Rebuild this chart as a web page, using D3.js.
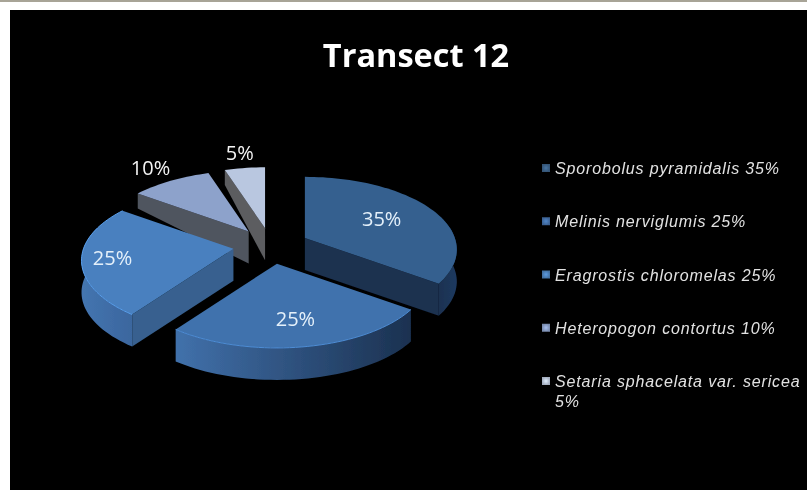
<!DOCTYPE html>
<html><head><meta charset="utf-8">
<script src="https://cdn.jsdelivr.net/npm/d3@7/dist/d3.min.js"></script>
<style>html,body{margin:0;padding:0;background:#fff}svg{display:block}</style>
</head><body><svg id="c" width="807" height="490"></svg>
<script>
const species = ["Sporobolus pyramidalis","Melinis nerviglumis","Eragrostis chloromelas","Heteropogon contortus","Setaria sphacelata var. sericea"];
const shares = [35,25,25,10,5];
const topColors = ["#34608f","#3f72ad","#4880bf","#8da2cb","#b9c7e0"];
const rimColors = [["#1a3150","#1f3a60"],["#4171ab","#1b3150"],["#4475b0","#3b669e"],["#50545e","#50545e"],["#5b5d62","#5b5d62"]];
const cutColors = ["#1b3050","#2a4a75","#37608f","#50545e","#5c5d61"];
const swatchColors = ["#3c6288","#4470a8","#4d82bb","#8ba0c8","#bcc8dc"];
const labelFrac = [0.6,0.7,0.8,1.3,1.3];

const svg = d3.select("#c");
const defs = svg.append("defs");
defs.append("filter").attr("id","soft").append("feGaussianBlur").attr("stdDeviation",0.45);
svg.append("rect").attr("width",807).attr("height",490).attr("fill","#fff");
svg.append("rect").attr("width",807).attr("height",2).attr("fill","#a8a497");
svg.append("rect").attr("x",10).attr("y",10).attr("width",797).attr("height",480).attr("fill","#000");

const R=150,k=0.16,b=70.8,depth=32,cx=271,cy=246,explode=38,squash=0.47;
const deg=d3.scaleLinear().domain([0,360]).range([0,2*Math.PI]);
const pie=d3.pie().sort(null)(shares);
function proj(theta,f){const X=f*Math.sin(theta),Z=-f*Math.cos(theta),s=1/(1-k*Z);return [R*X*s,b*Z*s];}
function range(a,e){const n=Math.max(2,Math.ceil((e-a)/deg(2)));return d3.range(n+1).map(i=>a+(e-a)*i/n);}
const line=d3.line();
const g=svg.append("g").attr("filter","url(#soft)");
const slices=pie.map((p,i)=>{const m=(p.startAngle+p.endAngle)/2;
  return {i,a0:p.startAngle,a1:p.endAngle,m,ax:cx+explode*Math.sin(m),ay:cy-explode*Math.cos(m)*squash};});

[3,4,0,2,1].forEach(i=>{
  const s=slices[i],rim=t=>{const q=proj(t,1);return [s.ax+q[0],s.ay+q[1]];};
  const grp=g.append("g");
  const grad=defs.append("linearGradient").attr("id","rim"+i).attr("gradientUnits","userSpaceOnUse");
  const lo=Math.max(s.a0,deg(72)),hi=Math.min(s.a1,deg(288));
  if(hi>lo){
    const pts=range(lo,hi).map(rim);
    const ex=d3.extent(pts,d=>d[0]);
    grad.attr("x1",ex[0]).attr("x2",ex[1]).attr("y1",0).attr("y2",0);
    grad.append("stop").attr("offset",0).attr("stop-color",rimColors[i][0]);
    grad.append("stop").attr("offset",1).attr("stop-color",rimColors[i][1]);
    const poly=pts.concat(pts.slice().reverse().map(d=>[d[0],d[1]+depth]));
    grp.append("path").attr("d",line(poly)+"Z").attr("fill","url(#rim"+i+")");
  }
  // flat cut face: slice 1 shows its clockwise end, slices 3-5 their start edge
  if(i!==1){
    const t=i===0?s.a1:s.a0, e=rim(t);
    const far=i>=3?15:depth;
    const poly=[[s.ax,s.ay],e,[e[0],e[1]+far],[s.ax,s.ay+depth]];
    grp.append("path").attr("d",line(poly)+"Z").attr("fill",cutColors[i]);
  }
  const top=[[s.ax,s.ay]].concat(range(s.a0,s.a1).map(rim));
  grp.append("path").attr("d",line(top)+"Z").attr("fill",topColors[i]);
  if(i===1||i===2){
    grp.append("path").attr("d",line(range(s.a0,s.a1).map(rim)))
      .attr("fill","none").attr("stroke",d3.color(topColors[i]).brighter(0.6)).attr("stroke-width",1);
  }
});

const t=svg.append("g").attr("filter","url(#soft)");
t.selectAll("text.pct").data(slices).join("text").attr("class","pct")
  .attr("x",d=>d.ax+proj(d.m,labelFrac[d.i])[0])
  .attr("y",d=>d.ay+proj(d.m,labelFrac[d.i])[1]+7)
  .attr("text-anchor","middle").attr("font-family","'Open Sans'").attr("font-size",20)
  .attr("fill",d=>d.i>=3?"#f4f4f4":"#e4f0fa").text(d=>shares[d.i]+"%");

t.append("text").attr("x",416).attr("y",67).attr("text-anchor","middle")
  .attr("font-family","'Open Sans'").attr("font-weight",700).attr("font-size",32.5)
  .attr("fill","#fff").text("Transect 12");

const legY=d3.scalePoint().domain(d3.range(species.length)).range([168,381]);
const leg=t.selectAll("g.leg").data(species).join("g").attr("class","leg");
defs.selectAll("radialGradient").data(swatchColors).join("radialGradient").attr("id",(d,i)=>"sw"+i)
  .each(function(d){const r=d3.select(this);
    r.append("stop").attr("offset",0).attr("stop-color",d3.color(d).brighter(0.5));
    r.append("stop").attr("offset",1).attr("stop-color",d3.color(d).darker(0.4));});
leg.append("rect").attr("x",542).attr("y",(d,i)=>legY(i)-4).attr("width",8).attr("height",8)
  .attr("fill",(d,i)=>"url(#sw"+i+")");
leg.each(function(d,i){
  const label=d+" "+shares[i]+"%";
  const txt=d3.select(this).append("text").attr("x",555).attr("y",legY(i)+6)
    .attr("font-family","'Liberation Sans'").attr("font-style","italic").attr("font-size",16)
    .attr("letter-spacing",0.85).attr("fill","#e2e2e2");
  const words=label.split(" ");
  let cur=[],ts=txt.append("tspan").attr("x",555);
  words.forEach(w=>{
    cur.push(w);ts.text(cur.join(" "));
    if(ts.node().getComputedTextLength()>250){
      cur.pop();ts.text(cur.join(" "));cur=[w];
      ts=txt.append("tspan").attr("x",555).attr("dy",20).text(w);
    }
  });
});
</script></body></html>
